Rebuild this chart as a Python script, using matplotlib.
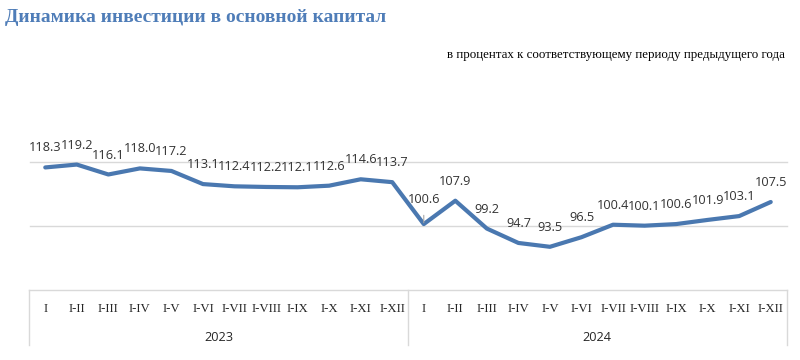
import matplotlib
matplotlib.use("Agg")
import matplotlib.pyplot as plt
from matplotlib.lines import Line2D

months = ["I", "I-II", "I-III", "I-IV", "I-V", "I-VI", "I-VII", "I-VIII",
          "I-IX", "I-X", "I-XI", "I-XII"]
years = ["2023", "2024"]
values = [118.3, 119.2, 116.1, 118.0, 117.2, 113.1, 112.4, 112.2, 112.1, 112.6,
          114.6, 113.7,
          100.6, 107.9, 99.2, 94.7, 93.5, 96.5, 100.4, 100.1, 100.6, 101.9,
          103.1, 107.5]

title = "Динамика инвестиции в основной капитал"
subtitle = "в процентах к соответствующему периоду предыдущего года"

line_color = "#4A78B0"
grid_color = "#D9D9D9"
text_color = "#333333"

fig = plt.figure(figsize=(8, 3.6), dpi=100)
W, H = 800, 360
left_px, right_px = 29.5, 786.5
top_px, bottom_px = 162, 290
ax = fig.add_axes([left_px / W, 1 - bottom_px / H,
                   (right_px - left_px) / W, (bottom_px - top_px) / H])

n = len(values)
x = list(range(n))
ax.set_xlim(-0.5, n - 0.5)
ax.set_ylim(80, 120)
for s in ax.spines.values():
    s.set_visible(False)
ax.set_xticks([])
ax.set_yticks([])
for yv in (100, 120):
    ax.axhline(yv, color=grid_color, lw=1, zorder=1, clip_on=False)

ax.plot(x, values, color=line_color, lw=3, solid_capstyle="round",
        solid_joinstyle="round", zorder=3)

for i, v in enumerate(values):
    if i == 12:
        ax.annotate(f"{v:.1f}", xy=(i, v), xytext=(0, 18), textcoords="offset points",
                    ha="center", va="center", fontsize=9.2, color=text_color,
                    family="Open Sans",
                    arrowprops=dict(arrowstyle="-", color="#A6A6A6", lw=0.8,
                                    shrinkA=5, shrinkB=1))
    else:
        ax.annotate(f"{v:.1f}", xy=(i, v), xytext=(0, 14), textcoords="offset points",
                    ha="center", va="center", fontsize=9.2, color=text_color,
                    family="Open Sans")

# category table
trans = ax.get_xaxis_transform()
box_bottom = -(345 - 290) / (bottom_px - top_px)
ax.add_line(Line2D([-0.5, n - 0.5], [0, 0], transform=trans, color=grid_color,
                   lw=1, clip_on=False))
for xv in (-0.5, 11.5, n - 0.5):
    ax.add_line(Line2D([xv, xv], [0, box_bottom], transform=trans, color=grid_color,
                       lw=1, clip_on=False))

tick_y = -(309 - 290) / (bottom_px - top_px)
year_y = -(337 - 290) / (bottom_px - top_px)
for yi, yr in enumerate(years):
    for mi, m in enumerate(months):
        ax.text(yi * 12 + mi, tick_y, m, transform=trans, ha="center", va="center",
                fontsize=9.2, family="Liberation Serif", color="#262626")
    ax.text(yi * 12 + 5.5, year_y, yr, transform=trans, ha="center", va="center",
            fontsize=9.2, family="Open Sans", color="#262626")

fig.text(5 / W, 1 - 18 / H, title, ha="left", va="center", fontsize=14,
         fontweight="bold", family="Liberation Serif", color="#4F7DB8")
fig.text(785 / W, 1 - 55 / H, subtitle, ha="right", va="center", fontsize=9.3,
         family="Liberation Serif", color="#000000")

fig.savefig("out.png", dpi=100)
